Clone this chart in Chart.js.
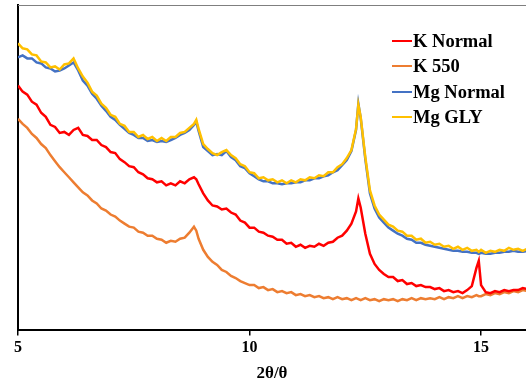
<!DOCTYPE html>
<html>
<head>
<meta charset="utf-8">
<script src="https://cdn.jsdelivr.net/npm/chart.js@4.4.1/dist/chart.umd.min.js"></script>
<style>
  html, body { margin: 0; padding: 0; background: #fff; overflow: hidden; }
  #wrap { width: 526px; height: 385px; }
</style>
</head>
<body>
<div id="wrap"><canvas id="xrd" width="526" height="385"></canvas></div>
<script>
// 2θ positions (degrees), shared by all four scans
const twoTheta = [
  5.0, 5.1, 5.2, 5.3, 5.4, 5.5, 5.6, 5.7, 5.8, 5.9,
  6.0, 6.1, 6.2, 6.3, 6.4, 6.5, 6.6, 6.7, 6.8, 6.9,
  7.0, 7.1, 7.2, 7.3, 7.4, 7.5, 7.6, 7.7, 7.8, 7.9,
  8.0, 8.1, 8.2, 8.3, 8.4, 8.5, 8.6, 8.7, 8.8, 8.85, 8.9,
  9.0, 9.1, 9.2, 9.3, 9.4, 9.5, 9.6, 9.7, 9.8, 9.9,
  10.0, 10.1, 10.2, 10.3, 10.4, 10.5, 10.6, 10.7, 10.8, 10.9,
  11.0, 11.1, 11.2, 11.3, 11.4, 11.5, 11.6, 11.7, 11.8, 11.9,
  12.0, 12.1, 12.2, 12.3, 12.35, 12.4, 12.5, 12.6, 12.7, 12.8, 12.9,
  13.0, 13.1, 13.2, 13.3, 13.4, 13.5, 13.6, 13.7, 13.8, 13.9,
  14.0, 14.1, 14.2, 14.3, 14.4, 14.5, 14.6, 14.7, 14.8, 14.9, 14.95,
  15.0, 15.1, 15.2, 15.3, 15.4, 15.5, 15.6, 15.7, 15.8, 15.9,
  16.0,
];

// intensities (arbitrary units)
const kNormal = [
  243, 237, 234, 227, 224, 216, 212, 204, 202, 196,
  197, 194, 199, 201, 194, 193, 189, 189, 184, 182,
  177, 176, 170, 167, 163, 162, 157, 155, 151, 150,
  147, 148, 144, 146, 144, 148, 146, 150, 152, 150, 145,
  136, 129, 124, 123, 120, 121, 117, 115, 109, 107,
  102, 102, 98, 97, 94, 93, 90, 90, 86, 87,
  83, 85, 82, 84, 83, 86, 84, 87, 88, 92,
  94, 99, 106, 118, 131, 122, 96, 76, 66, 60, 56,
  53, 53, 49, 50, 46, 47, 44, 45, 43, 43,
  41, 42, 39, 40, 38, 39, 37, 40, 44, 62, 69,
  45, 38, 37, 39, 38, 40, 39, 40, 40, 42,
  41,
];

const k550 = [
  210, 205, 201, 195, 191, 185, 181, 174, 168, 162,
  157, 152, 147, 142, 137, 134, 129, 126, 121, 119,
  115, 113, 109, 106, 103, 102, 98, 97, 94, 94,
  91, 90, 87, 89, 88, 91, 92, 97, 103, 99, 91,
  80, 73, 68, 65, 60, 58, 54, 52, 49, 47,
  45, 45, 42, 43, 40, 41, 38, 39, 37, 38,
  35, 36, 34, 35, 33, 34, 32, 33, 31, 33,
  31, 32, 30, 32, 31, 30, 32, 30, 31, 29, 31,
  30, 31, 29, 31, 30, 32, 30, 32, 31, 32,
  31, 33, 31, 33, 32, 34, 32, 34, 33, 35, 34,
  34, 36, 35, 37, 36, 38, 37, 39, 38, 40,
  39,
];

const mgNormal = [
  271, 273, 270, 270, 266, 265, 261, 260, 257, 258,
  260, 263, 266, 258, 248, 243, 235, 230, 223, 218,
  212, 209, 204, 200, 196, 194, 191, 191, 188, 189,
  187, 188, 187, 189, 191, 194, 196, 199, 204, 207, 198,
  182, 178, 174, 175, 174, 178, 172, 169, 163, 161,
  156, 153, 150, 148, 148, 146, 146, 145, 146, 146,
  147, 147, 149, 149, 151, 151, 153, 154, 157, 159,
  164, 169, 178, 199, 225, 211, 170, 136, 121, 112, 107,
  102, 99, 96, 94, 91, 90, 87, 87, 85, 84,
  83, 82, 81, 80, 79, 79, 78, 78, 77, 77, 76,
  77, 76, 76, 77, 77, 78, 78, 79, 78, 78,
  79,
];

const mgGly = [
  285, 280, 279, 274, 273, 267, 266, 261, 262, 259,
  264, 265, 270, 260, 252, 246, 237, 233, 225, 221,
  214, 212, 205, 203, 197, 197, 192, 194, 190, 192,
  188, 191, 188, 192, 192, 196, 197, 201, 205, 209, 200,
  185, 180, 176, 174, 177, 179, 174, 171, 165, 163,
  157, 156, 151, 152, 149, 150, 147, 149, 146, 149,
  147, 150, 149, 152, 151, 154, 153, 157, 157, 162,
  165, 171, 179, 200, 224, 212, 172, 139, 124, 115, 110,
  105, 103, 99, 98, 94, 94, 90, 91, 87, 88,
  85, 86, 83, 84, 81, 83, 80, 82, 79, 80, 78,
  80, 77, 79, 78, 80, 79, 82, 80, 81, 79,
  81,
];

const seriesLabels = ["K Normal", "K 550", "Mg Normal", "Mg GLY"];
const seriesColors = ["#ff0000", "#ed7d31", "#4472c4", "#ffc000"];
const xTicks = [5, 10, 15];

const serif = "'Liberation Serif', 'Times New Roman', serif";

function toPoints(ys) {
  return twoTheta.map((x, i) => ({ x, y: ys[i] }));
}

// legend drawn inside the plot, upper right, like the Excel original
const innerLegend = {
  id: "innerLegend",
  afterDraw(chart) {
    const { ctx } = chart;
    const x0 = 392;
    const rows = [41, 66, 92, 117];
    ctx.save();
    ctx.font = "bold 18.5px " + serif;
    ctx.textBaseline = "middle";
    seriesLabels.forEach((label, i) => {
      ctx.strokeStyle = seriesColors[i];
      ctx.lineWidth = 2;
      ctx.beginPath();
      ctx.moveTo(x0, rows[i]);
      ctx.lineTo(x0 + 20, rows[i]);
      ctx.stroke();
      ctx.fillStyle = "#000";
      ctx.fillText(label, x0 + 21, rows[i] + 1);
    });
    ctx.restore();
  },
};

// thin grey frame line along the top of the plot area
const topFrame = {
  id: "topFrame",
  beforeDatasetsDraw(chart) {
    const { ctx, chartArea } = chart;
    ctx.save();
    ctx.strokeStyle = "#7f7f7f";
    ctx.lineWidth = 1;
    ctx.beginPath();
    ctx.moveTo(chartArea.left, chartArea.top + 0.5);
    ctx.lineTo(chartArea.right, chartArea.top + 0.5);
    ctx.stroke();
    ctx.restore();
  },
};

const datasets = [kNormal, k550, mgNormal, mgGly].map((ys, i) => ({
  label: seriesLabels[i],
  data: toPoints(ys),
  borderColor: seriesColors[i],
  backgroundColor: seriesColors[i],
  borderWidth: 2.5,
  pointRadius: 0,
  tension: 0,
  order: [2, 3, 1, 0][i],
}));

new Chart(document.getElementById("xrd"), {
  type: "line",
  data: { datasets },
  options: {
    responsive: false,
    animation: false,
    devicePixelRatio: 1,
    parsing: false,
    layout: { padding: { left: 18, top: 5, right: 0, bottom: 1 } },
    plugins: {
      legend: { display: false },
      tooltip: { enabled: false },
    },
    scales: {
      x: {
        type: "linear",
        min: 5,
        max: 15.97,
        afterBuildTicks(scale) {
          scale.ticks = xTicks.map((v) => ({ value: v }));
        },
        ticks: {
          color: "#000",
          padding: 3,
          maxRotation: 0,
          font: { family: serif, size: 16, weight: "bold" },
        },
        grid: {
          drawOnChartArea: false,
          drawTicks: true,
          tickLength: 5,
          color: "#000",
          lineWidth: 1.5,
        },
        border: { color: "#000", width: 2 },
        title: {
          display: true,
          text: "2θ/θ",
          color: "#000",
          padding: { top: 3, bottom: 0 },
          font: { family: serif, size: 17, weight: "bold" },
        },
      },
      y: {
        type: "linear",
        min: 0,
        max: 323,
        ticks: { display: false },
        grid: { display: false, drawTicks: false },
        border: { color: "#000", width: 2 },
      },
    },
  },
  plugins: [topFrame, innerLegend],
});
</script>
</body>
</html>
